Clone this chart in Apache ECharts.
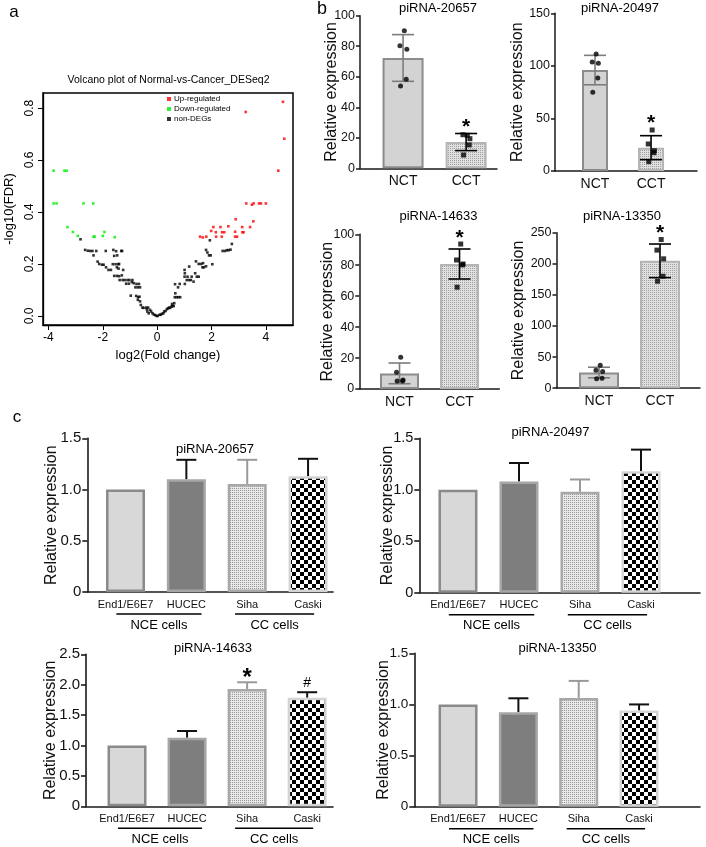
<!DOCTYPE html>
<html><head><meta charset="utf-8">
<script src="https://cdn.jsdelivr.net/npm/echarts@6/dist/echarts.min.js"></script>
<style>html,body{margin:0;padding:0;background:#fff}#c{width:706px;height:847px}</style>
</head><body><div id="c"></div>
<script>
// ================= DATA =================
// Panel a: volcano plot  [log2FC, -log10(FDR)]
const upRegulated = [
  [4.63,0.824],[3.26,0.785],[4.68,0.682],[4.46,0.559],
  [3.28,0.433],[3.49,0.428],[3.55,0.433],[3.75,0.433],[3.82,0.433],[4.0,0.433],
  [2.89,0.372],[3.54,0.364],
  [2.07,0.342],[2.33,0.342],[2.62,0.345],[3.13,0.342],[3.42,0.342],
  [1.99,0.327],[2.16,0.322],[2.39,0.322],[2.47,0.322],[2.87,0.324],[3.14,0.322],[3.18,0.322],
  [1.58,0.305],[1.68,0.302],[1.81,0.305],[2.17,0.305],[2.38,0.305],[2.87,0.305],[2.94,0.305]
];
const downRegulated = [
  [-3.81,0.559],[-3.41,0.559],[-3.33,0.559],
  [-3.81,0.433],[-3.70,0.433],[-2.71,0.433],[-2.35,0.433],
  [-3.30,0.342],[-3.10,0.323],[-2.92,0.308],[-2.34,0.305],[-2.30,0.305],[-2.0,0.308],[-1.94,0.323],[-1.56,0.303]
];
const nonDEGs = [
  [-2.82,0.295],
  [-2.65,0.254],[-2.55,0.251],[-2.46,0.25],[-2.38,0.25],[-2.24,0.25],
  [-2.34,0.233],
  [-2.19,0.209],[-2.13,0.2],[-2.03,0.197],[-1.97,0.197],
  [-1.88,0.187],[-1.79,0.177],[-1.70,0.177],
  [-1.89,0.25],
  [-1.61,0.254],[-1.51,0.249],[-1.58,0.231],[-1.47,0.233],
  [-1.32,0.25],[-1.29,0.25],
  [-1.63,0.199],[-1.53,0.199],[-1.43,0.199],[-1.40,0.2],
  [-1.48,0.187],[-1.42,0.182],[-1.25,0.177],
  [-1.58,0.154],[-1.48,0.154],[-1.40,0.153],[-1.30,0.156],
  [-1.38,0.138],[-1.27,0.138],[-1.19,0.138],[-1.09,0.138],[-1.02,0.138],[-0.91,0.138],
  [-1.14,0.124],[-1.04,0.124],
  [-0.93,0.13],[-0.86,0.126],[-0.76,0.123],[-0.67,0.123],
  [-0.80,0.11],[-0.71,0.11],[-0.63,0.11],
  [-0.97,0.078],
  [-0.77,0.077],[-0.70,0.072],[-0.65,0.074],
  [-0.71,0.062],[-0.63,0.056],
  [-0.60,0.042],[-0.50,0.031],[-0.40,0.032],[-0.38,0.026],[-0.54,0.032],
  [-0.33,0.032],[-0.26,0.023],[-0.36,0.017],[-0.31,0.01],
  [-0.22,0.017],[-0.17,0.01],[-0.12,0.005],[-0.07,0.003],[-0.02,0],[0.02,0],
  [0.09,0.004],[0.13,0.005],[0.18,0.008],[0.23,0.01],[0.26,0.017],[0.31,0.019],[0.36,0.026],
  [0.40,0.029],[0.44,0.032],[0.48,0.031],[0.53,0.036],[0.56,0.038],[0.61,0.038],
  [0.55,0.046],[0.63,0.049],
  [0.65,0.072],[0.72,0.072],[0.78,0.072],[0.85,0.072],
  [0.67,0.087],
  [0.66,0.122],[0.77,0.11],[0.83,0.123],
  [1.02,0.123],[1.09,0.138],[1.18,0.138],[1.24,0.138],[1.34,0.132],
  [1.01,0.151],[1.02,0.164],[1.01,0.177],
  [1.18,0.19],
  [1.12,0.151],[1.27,0.151],[1.40,0.164],[1.46,0.151],[1.53,0.151],
  [1.43,0.21],[1.53,0.2],[1.62,0.2],[1.69,0.203],[1.67,0.187],[1.72,0.187],[1.80,0.191],
  [1.80,0.254],[1.85,0.244],[1.91,0.233],[1.97,0.233],[2.03,0.199],
  [1.94,0.291],
  [2.41,0.25],[2.50,0.25],[2.57,0.253],[2.63,0.253],[2.70,0.255],[2.75,0.277]
];
const volcanoXTicks = [-4,-2,0,2,4];
const volcanoYTicks = [0,0.2,0.4,0.6,0.8];

// Panel b: tissues
const bCategories = ['NCT','CCT'];
const bTitles = ['piRNA-20657','piRNA-20497','piRNA-14633','piRNA-13350'];
const bMeans = [[72.3,17.2],[96,22.2],[10.1,80.8],[25.2,204.8]];
const bSD = [[15.3,5.6],[14,11.4],[6.7,9.7],[8.5,27]];
const bPointsNCT = [[90.2,80.3,78,58.3,53.9],[111.3,103.7,102.5,88.5,74.9],[20.5,10.8,5.8,5.2,5.2],[37,29,27,16,15]];
const bPointsCCT = [[21.6,22,19.4,15.3,8.7],[39,25.7,19.3,17.4,8.9],[93.7,83.4,80.8,80.2,65.8],[239,222,208,180,172]];
const bYMax = [100,150,100,250];
const bYStep = [20,50,20,50];
const bMarks = [['','*'],['','*'],['','*'],['','*']];

// Panel c: cell lines
const cCategories = ['End1/E6E7','HUCEC','Siha','Caski'];
const cGroups = ['NCE cells','CC cells'];
const cTitles = ['piRNA-20657','piRNA-20497','piRNA-14633','piRNA-13350'];
const cMeans = [[1,1.10,1.055,1.13],[1,1.08,0.98,1.18],[1,1.128,1.93,1.786],[1,0.924,1.064,0.94]];
const cSD = [[0,0.19,0.235,0.17],[0,0.18,0.12,0.21],[0,0.11,0.11,0.09],[0,0.136,0.166,0.06]];
const cYMax = [1.5,1.5,2.5,1.5];
const cYStep = [0.5,0.5,0.5,0.5];
const cMarks = [['','','',''],['','','',''],['','','*','#'],['','','','']];

// ================= LAYOUT / STYLE =================
const FONT = '"Liberation Sans", Arial, Helvetica, sans-serif';
const B_LAYOUT = [
  {left:360, top:15.7, right:497, bottom:168.3, xmin:-0.683, xmax:1.49, barW:41, nameGap:20},
  {left:555, top:13.3, right:697, bottom:171, xmin:-0.714, xmax:1.82, barW:26, nameGap:29},
  {left:359.3, top:234.3, right:499.3, bottom:389, xmin:-0.67, xmax:1.663, barW:39, nameGap:24},
  {left:556.5, top:232.7, right:700, bottom:388.2, xmin:-0.697, xmax:1.656, barW:40, nameGap:30}
];
const B_TITLE_POS = [[438,8],[620,8],[438.5,216],[622,216]];
const C_LAYOUT = [
  {left:87.3, top:438.3, right:333, bottom:592, xmin:-0.628, xmax:3.41, nameGap:28, tickFont:15},
  {left:419.3, top:438.3, right:700, bottom:592.7, xmin:-0.634, xmax:3.967, nameGap:24, tickFont:14.5},
  {left:86, top:654.3, right:333, bottom:806.3, xmin:-0.683, xmax:3.43, nameGap:27, tickFont:15},
  {left:414.3, top:653.3, right:700, bottom:806.7, xmin:-0.725, xmax:4.01, nameGap:23, tickFont:13.5}
];
const C_TITLE_POS = [[215,449],[550.5,432],[213,648],[557.5,648]];
const C_GROUP_SPAN = [[-0.15,1.25],[1.8,3.1]];
const JIT = [0.02,-0.05,0.06,0.05,-0.04];

function pattern(size, bg, fg, cells){
  const cv = document.createElement('canvas'); cv.width = cv.height = size;
  const g = cv.getContext('2d'); g.fillStyle = bg; g.fillRect(0,0,size,size);
  g.fillStyle = fg; cells.forEach(c => g.fillRect(c[0],c[1],c[2],c[3]));
  return {image: cv, repeat: 'repeat'};
}
const checker = pattern(8,'#ffffff','#000000',[[0,0,4,4],[4,4,4,4]]);
const dots = pattern(2,'#e8e8e8','#999999',[[0,0,1,1]]);
const hatchB = pattern(2,'#e0e0e0','#a0a0a0',[[0,0,1,1]]);

const B_BAR_STYLE = [
  {color:'#d3d3d3', borderColor:'#8c8c8c', borderWidth:2},
  {color:hatchB, borderColor:'#b5b5b5', borderWidth:2}
];
const B_ERR_COLOR = ['#7c7c7c','#000'];
const C_BAR_STYLE = [
  {color:'#d8d8d8', borderColor:'#8a8a8a', borderWidth:2.5},
  {color:'#7e7e7e', borderColor:'#a6a6a6', borderWidth:2.5},
  {color:dots, borderColor:'#a8a8a8', borderWidth:2.5},
  {color:checker, borderColor:'#d4d4d4', borderWidth:2.5}
];
const C_ERR_COLOR = ['#000','#111','#9a9a9a','#111'];

const chart = echarts.init(document.getElementById('c'), null, {renderer:'canvas'});

const grids = [], xAxes = [], yAxes = [], series = [];
const AX = '#1a1a1a';

// ---- volcano ----
grids.push({left:43, top:93, width:250, height:232, show:true, borderColor:'#000', borderWidth:1.5, outerBoundsMode:'none'});
xAxes.push({gridIndex:0, type:'value', min:-4.2, max:5.0,
  axisLine:{show:true, onZero:false, lineStyle:{color:'#000', width:1.3}},
  axisTick:{show:true, customValues:volcanoXTicks, length:5, lineStyle:{color:'#000', width:1}},
  axisLabel:{customValues:volcanoXTicks, margin:7, fontSize:12, color:'#000', fontFamily:FONT},
  splitLine:{show:false},
  name:'log2(Fold change)', nameLocation:'middle', nameGap:24, nameMoveOverlap:false,
  nameTextStyle:{fontSize:13, color:'#000', fontFamily:FONT}});
yAxes.push({gridIndex:0, type:'value', min:-0.035, max:0.858,
  axisLine:{show:true, onZero:false, lineStyle:{color:'#000', width:1.3}},
  axisTick:{show:true, customValues:volcanoYTicks, length:5, lineStyle:{color:'#000', width:1}},
  axisLabel:{customValues:volcanoYTicks, rotate:90, margin:7, fontSize:12, color:'#000', fontFamily:FONT,
    formatter:v=>Number(v).toFixed(1)},
  splitLine:{show:false},
  name:'-log10(FDR)', nameLocation:'middle', nameGap:27, nameMoveOverlap:false,
  nameTextStyle:{fontSize:13, color:'#000', fontFamily:FONT}});
[['Up-regulated',upRegulated,'#ff0000'],['Down-regulated',downRegulated,'#00ee00'],['non-DEGs',nonDEGs,'#000000']]
.forEach(([name,data,color]) => series.push({name, type:'scatter', xAxisIndex:0, yAxisIndex:0,
  data, symbol:'rect', symbolSize:2.6, itemStyle:{color}, silent:true, z:3}));

// ---- panel b ----
B_LAYOUT.forEach((L,i) => {
  const gi = grids.length;
  grids.push({left:L.left, top:L.top, width:L.right-L.left, height:L.bottom-L.top, outerBoundsMode:'none'});
  xAxes.push({gridIndex:gi, type:'value', min:L.xmin, max:L.xmax,
    axisLine:{show:true, onZero:false, lineStyle:{color:AX, width:1.5}},
    axisTick:{show:false}, splitLine:{show:false},
    axisLabel:{customValues:[0,1], formatter:v=>bCategories[Math.round(v)], fontSize:14, color:'#111', margin:6, fontFamily:FONT}});
  yAxes.push({gridIndex:gi, type:'value', min:0, max:bYMax[i], interval:bYStep[i],
    axisLine:{show:true, onZero:false, lineStyle:{color:AX, width:1.5}},
    axisTick:{show:true, length:4, lineStyle:{color:AX, width:1.5}}, splitLine:{show:false},
    axisLabel:{fontSize:12.5, color:'#111', margin:5, fontFamily:FONT},
    name:'Relative expression', nameLocation:'middle', nameGap:L.nameGap, nameMoveOverlap:false,
    nameTextStyle:{fontSize:16, color:'#111', fontFamily:FONT}});
  series.push({type:'bar', xAxisIndex:gi, yAxisIndex:gi, barWidth:L.barW, silent:true, z:2,
    data:bMeans[i].map((v,k)=>({value:[k,v], itemStyle:B_BAR_STYLE[k]}))});
  series.push({type:'custom', xAxisIndex:gi, yAxisIndex:gi, silent:true, z:3,
    data:bMeans[i].map((v,k)=>[k,v,bSD[i][k]]),
    renderItem:(p,api)=>{
      const k=api.value(0), m=api.value(1), s=api.value(2);
      const t=api.coord([k,m+s]), b=api.coord([k,m-s]); const hw=11;
      const st={stroke:B_ERR_COLOR[k], lineWidth:1.6};
      return {type:'group', children:[
        {type:'line', shape:{x1:t[0],y1:t[1],x2:b[0],y2:b[1]}, style:st},
        {type:'line', shape:{x1:t[0]-hw,y1:t[1],x2:t[0]+hw,y2:t[1]}, style:st},
        {type:'line', shape:{x1:b[0]-hw,y1:b[1],x2:b[0]+hw,y2:b[1]}, style:st}]};
    }});
  series.push({type:'scatter', xAxisIndex:gi, yAxisIndex:gi, silent:true, z:4, symbol:'circle', symbolSize:5,
    itemStyle:{color:'#000'}, data:bPointsNCT[i].map((v,j)=>[0+JIT[j],v])});
  series.push({type:'scatter', xAxisIndex:gi, yAxisIndex:gi, silent:true, z:4, symbol:'rect', symbolSize:5,
    itemStyle:{color:'#000'}, data:bPointsCCT[i].map((v,j)=>[1+JIT[j],v])});
  const pts = [bPointsNCT[i], bPointsCCT[i]];
  series.push({type:'custom', xAxisIndex:gi, yAxisIndex:gi, silent:true, z:5,
    data:bMarks[i].map((m,k)=>[k, Math.max(bMeans[i][k]+bSD[i][k], ...pts[k]), k]).filter(d=>bMarks[i][d[2]]),
    renderItem:(p,api)=>{
      const k=api.value(2); const c=api.coord([api.value(0),api.value(1)]); const fs=21;
      return {type:'text', x:c[0], y:c[1]-12+0.27*fs, style:{text:bMarks[i][k], font:'bold '+fs+'px '+FONT,
        fill:'#000', align:'center', verticalAlign:'middle', textAlign:'center', textVerticalAlign:'middle'}};
    }});
});

// ---- panel c ----
C_LAYOUT.forEach((L,i) => {
  const gi = grids.length;
  grids.push({left:L.left, top:L.top, width:L.right-L.left, height:L.bottom-L.top, outerBoundsMode:'none'});
  xAxes.push({gridIndex:gi, type:'value', min:L.xmin, max:L.xmax,
    axisLine:{show:true, onZero:false, lineStyle:{color:AX, width:1.6}},
    axisTick:{show:false}, splitLine:{show:false},
    axisLabel:{customValues:[0,1,2,3], formatter:v=>cCategories[Math.round(v)], fontSize:11, color:'#111', margin:7, fontFamily:FONT}});
  yAxes.push({gridIndex:gi, type:'value', min:0, max:cYMax[i], interval:cYStep[i],
    axisLine:{show:true, onZero:false, lineStyle:{color:AX, width:1.6}},
    axisTick:{show:true, length:5, lineStyle:{color:AX, width:1.6}}, splitLine:{show:false},
    axisLabel:{fontSize:L.tickFont, color:'#111', margin:6, fontFamily:FONT, formatter:v=>v===0?'0':Number(v).toFixed(1)},
    name:'Relative expression', nameLocation:'middle', nameGap:L.nameGap, nameMoveOverlap:false,
    nameTextStyle:{fontSize:16, color:'#111', fontFamily:FONT}});
  series.push({type:'bar', xAxisIndex:gi, yAxisIndex:gi, barWidth:39, silent:true, z:2,
    data:cMeans[i].map((v,k)=>({value:[k,v], itemStyle:C_BAR_STYLE[k]}))});
  series.push({type:'custom', xAxisIndex:gi, yAxisIndex:gi, silent:true, z:1,
    data:cMeans[i].map((v,k)=>[k,v,cSD[i][k]]).filter(d=>d[2]>0),
    renderItem:(p,api)=>{
      const k=api.value(0), m=api.value(1), s=api.value(2);
      const t=api.coord([k,m+s]), b=api.coord([k,m]); const hw=10;
      const st={stroke:C_ERR_COLOR[k], lineWidth:2};
      return {type:'group', children:[
        {type:'line', shape:{x1:t[0],y1:t[1],x2:b[0],y2:b[1]}, style:st},
        {type:'line', shape:{x1:t[0]-hw,y1:t[1],x2:t[0]+hw,y2:t[1]}, style:st}]};
    }});
  series.push({type:'custom', xAxisIndex:gi, yAxisIndex:gi, silent:true, z:5,
    data:cMarks[i].map((m,k)=>[k, cMeans[i][k]+cSD[i][k], k]).filter(d=>cMarks[i][d[2]]),
    renderItem:(p,api)=>{
      const k=api.value(2); const c=api.coord([api.value(0),api.value(1)]);
      const mk=cMarks[i][k]; const star = mk==='*'; const fs = star?24:14;
      const y = star ? c[1]-10.5+0.27*fs : c[1]-10+0.05*fs;
      return {type:'text', x:c[0], y, style:{text:mk, font:(star?'bold ':'')+fs+'px '+FONT,
        fill:'#000', align:'center', verticalAlign:'middle', textAlign:'center', textVerticalAlign:'middle'}};
    }});
});

function txt(text, x, y, size, extra){
  return Object.assign({type:'text', x, y, silent:true, style:{text, font:size+'px '+FONT, fill:'#000',
    align:'center', verticalAlign:'middle', textAlign:'center', textVerticalAlign:'middle'}}, extra||{});
}
const graphics = [
  txt('a', 14, 12, 17), txt('b', 322, 9, 18), txt('c', 17, 417, 17),
  txt('Volcano plot of Normal-vs-Cancer_DESeq2', 168.5, 80, 10.5)
];
bTitles.forEach((t,i)=>graphics.push(txt(t, B_TITLE_POS[i][0], B_TITLE_POS[i][1], 13)));
cTitles.forEach((t,i)=>graphics.push(txt(t, C_TITLE_POS[i][0], C_TITLE_POS[i][1], 13)));

const option = {
  animation:false,
  textStyle:{fontFamily:FONT},
  legend:{data:['Up-regulated','Down-regulated','non-DEGs'], orient:'vertical', left:167, top:95,
    itemWidth:4, itemHeight:4, itemGap:2, icon:'rect', padding:0,
    textStyle:{fontSize:8, color:'#000', fontFamily:FONT, padding:[0,0,0,-2]}, selectedMode:false},
  grid:grids, xAxis:xAxes, yAxis:yAxes, series, graphic:graphics
};
chart.setOption(option);

// group brackets under panel c (positions via axis scales)
const extra = [];
C_LAYOUT.forEach((L,i)=>{
  const gi = 5+i;
  C_GROUP_SPAN.forEach((sp,g)=>{
    const a = chart.convertToPixel({xAxisIndex:gi, yAxisIndex:gi},[sp[0],0]);
    const b = chart.convertToPixel({xAxisIndex:gi, yAxisIndex:gi},[sp[1],0]);
    extra.push({type:'line', silent:true, shape:{x1:a[0], y1:a[1]+22, x2:b[0], y2:a[1]+22}, style:{stroke:'#000', lineWidth:1.6}});
    extra.push(txt(cGroups[g], (a[0]+b[0])/2, a[1]+33, 13));
  });
});
chart.setOption({graphic: graphics.concat(extra)});
</script></body></html>
